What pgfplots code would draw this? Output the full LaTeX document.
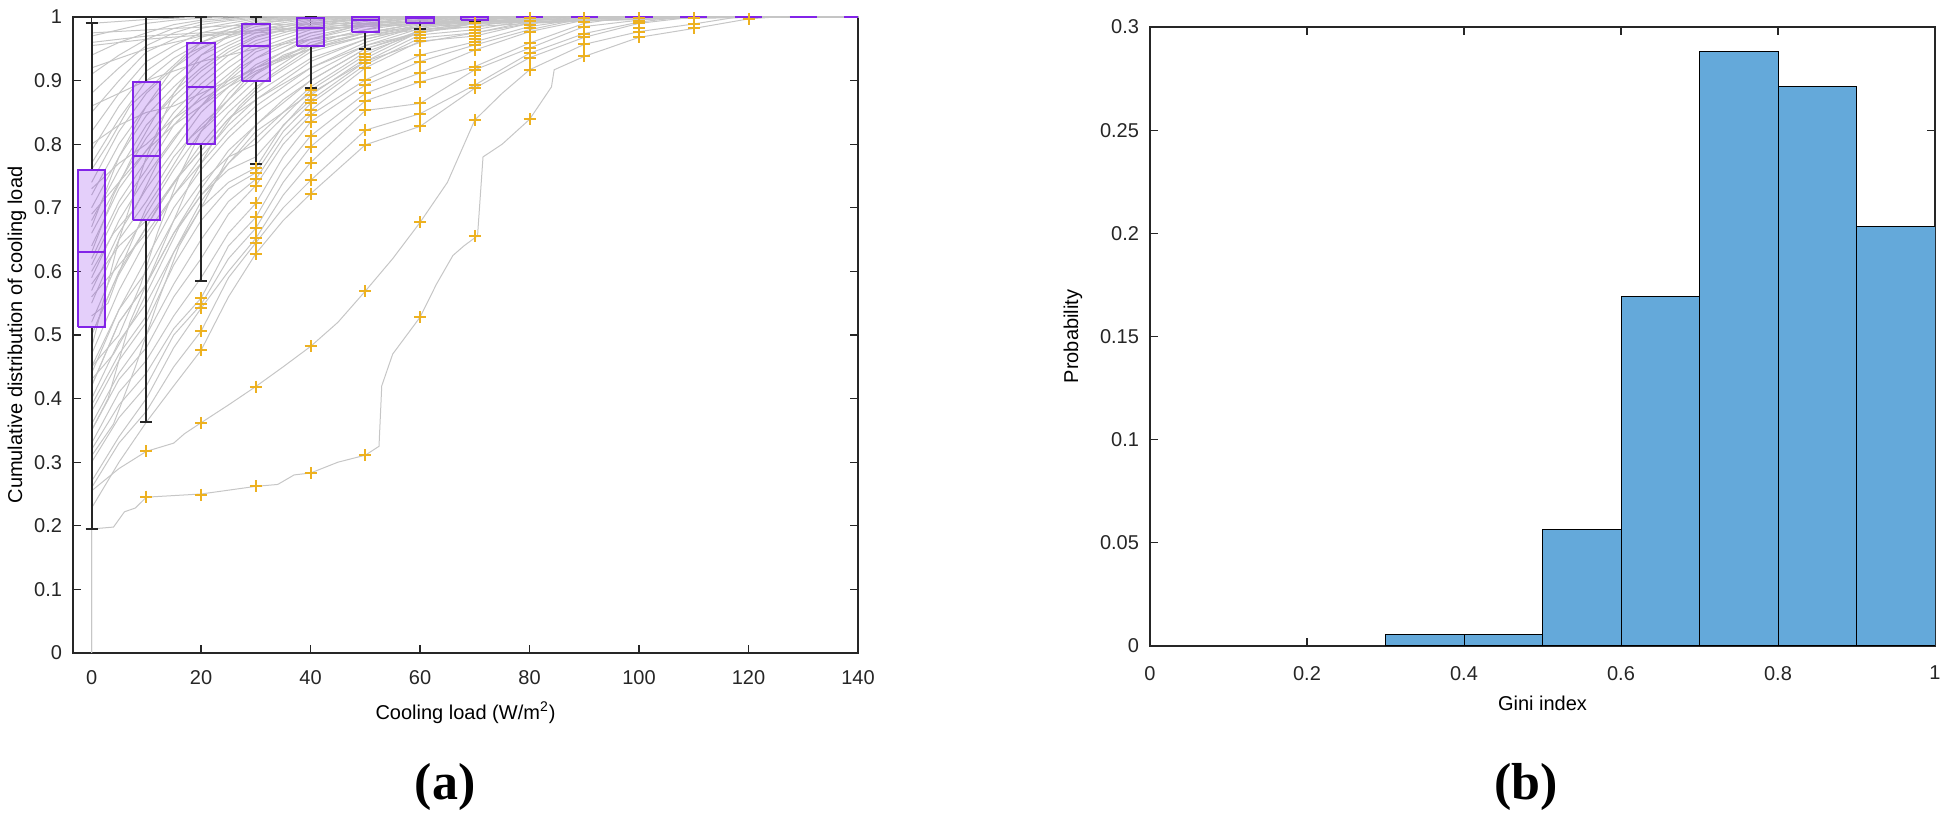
\documentclass[border=0pt]{standalone}
\usepackage{fontspec}
\setmainfont{Liberation Sans}
\newfontfamily\capfont{Liberation Serif}
\usepackage{pgfplots}
\pgfplotsset{compat=1.18}
\definecolor{cdfgray}{HTML}{C6C6C6}
\definecolor{boxpurple}{HTML}{8224E8}
\definecolor{outorange}{HTML}{EDB120}
\definecolor{histblue}{HTML}{64A9DA}
\definecolor{axgray}{HTML}{262626}

\pgfplotsset{
  panel/.style={
    scale only axis, anchor=south west,
    axis line style={axgray, line width=0.6pt},
    tick style={axgray, line width=0.6pt},
    tick align=inside, major tick length=4pt,
    tick label style={font=\fontsize{10}{11}\selectfont, text=axgray},
    yticklabel style={xshift=-2pt},
    label style={font=\fontsize{10.7}{12}\selectfont, text=axgray},
  },
  cdf/.style={cdfgray, line width=0.5pt},
  out/.style={only marks, mark=+, mark size=3pt, outorange, line width=1pt},
  box/.style={draw=boxpurple, line width=1pt, fill=boxpurple, fill opacity=0.22},
  mid/.style={boxpurple, line width=1pt, unbounded coords=jump},
  whisk/.style={axgray, line width=1pt, unbounded coords=jump},
}

\begin{document}
\begin{tikzpicture}
\path[use as bounding box] (0,0) rectangle (975.5pt,414.5pt);

% (a) cumulative distribution of cooling load
\begin{axis}[panel,
  at={(36.5pt,88pt)}, width=392.5pt, height=318pt,
  xmin=-3.4, xmax=140, ymin=0, ymax=1,
  xtick={0,20,40,60,80,100,120,140},
  xticklabels={0,20,40,60,80,100,120,140},
  xticklabel style={yshift=-5pt},
  ytick={0,0.1,0.2,0.3,0.4,0.5,0.6,0.7,0.8,0.9,1},
  yticklabels={0,0.1,0.2,0.3,0.4,0.5,0.6,0.7,0.8,0.9,1},
  xlabel={Cooling load (W/m\textsuperscript{2})},
  ylabel={Cumulative distribution of cooling load},
  every axis x label/.style={at={(axis description cs:0.5,-0.094)}, anchor=center},
  every axis y label/.style={at={(axis description cs:-0.0713,0.5)}, rotate=90, anchor=center},
  clip=false,
]
% low curves
\addplot[cdf] coordinates {(0,0)(0,0.195)(4,0.198)(6,0.222)(8,0.228)(10,0.245)(20,0.25)(30,0.262)(34,0.265)(37,0.28)(40,0.283)(45,0.30)(50,0.311)(52.5,0.325)(53,0.42)(55,0.47)(60,0.528)(63,0.58)(66,0.625)(68,0.64)(70.5,0.656)(71.5,0.78)(75,0.80)(80,0.839)(84,0.89)(84.5,0.917)(90,0.938)(100,0.968)(110,0.982)(120,0.997)(125,1)(140,1)};
\addplot[cdf] coordinates {(0,0)(0,0.255)(5,0.29)(10,0.317)(15,0.33)(17,0.345)(20,0.362)(25,0.39)(30,0.419)(35,0.45)(40,0.482)(45,0.52)(50,0.569)(55,0.62)(60,0.677)(65,0.74)(70,0.838)(75,0.88)(80,0.917)(90,0.957)(100,0.977)(110,0.989)(118,1)(140,1)};
\addplot[cdf] coordinates {(0,0.228)(5,0.30)(10,0.363)(15,0.42)(20,0.476)(25,0.56)(30,0.628)(35,0.68)(40,0.722)(50,0.799)(60,0.828)(70,0.888)(80,0.936)(90,0.968)(100,0.99)(110,1)(140,1)};
\addplot[cdf] coordinates {(0,0.26)(5,0.33)(10,0.38)(15,0.45)(20,0.506)(25,0.59)(30,0.645)(35,0.70)(40,0.743)(50,0.822)(60,0.848)(70,0.893)(80,0.943)(90,0.974)(100,0.992)(108,1)(140,1)};
\addplot[cdf] coordinates {(0,0.27)(5,0.34)(10,0.40)(15,0.48)(20,0.542)(25,0.60)(30,0.652)(35,0.72)(40,0.771)(50,0.853)(60,0.864)(70,0.917)(80,0.951)(90,0.985)(100,0.995)(105,1)(140,1)};
\addplot[cdf] coordinates {(0,0.30)(5,0.37)(10,0.42)(15,0.50)(20,0.548)(25,0.62)(30,0.668)(35,0.74)(40,0.796)(50,0.868)(60,0.898)(70,0.922)(80,0.959)(90,0.99)(98,1)(140,1)};
\addplot[cdf] coordinates {(0,0.32)(5,0.39)(10,0.44)(15,0.51)(20,0.558)(25,0.64)(30,0.685)(35,0.76)(40,0.813)(50,0.88)(60,0.912)(70,0.948)(80,0.977)(90,0.995)(95,1)(140,1)};
\addplot[cdf] coordinates {(0,0.33)(5,0.41)(10,0.46)(15,0.53)(20,0.59)(25,0.66)(30,0.707)(35,0.78)(40,0.835)(50,0.893)(60,0.93)(70,0.956)(80,0.98)(90,0.998)(95,1)(140,1)};
\addplot[cdf] coordinates {(0,0.35)(5,0.43)(10,0.48)(15,0.56)(20,0.62)(25,0.69)(30,0.735)(35,0.80)(40,0.846)(50,0.901)(60,0.94)(70,0.961)(80,0.985)(92,1)(140,1)};
\addplot[cdf] coordinates {(0,0.36)(5,0.44)(10,0.50)(15,0.58)(20,0.65)(25,0.71)(30,0.745)(35,0.81)(40,0.853)(50,0.92)(60,0.962)(70,0.97)(80,0.99)(90,1)(140,1)};
\addplot[cdf] coordinates {(0,0.38)(5,0.46)(10,0.52)(15,0.61)(20,0.68)(25,0.73)(30,0.755)(35,0.82)(40,0.864)(50,0.925)(60,0.967)(70,0.975)(80,0.993)(88,1)(140,1)};
\addplot[cdf] coordinates {(0,0.40)(5,0.49)(10,0.55)(15,0.63)(20,0.70)(25,0.74)(30,0.763)(35,0.83)(40,0.869)(50,0.93)(60,0.972)(70,0.98)(80,0.995)(86,1)(140,1)};
\addplot[cdf] coordinates {(0,0.42)(5,0.52)(10,0.58)(15,0.66)(20,0.72)(25,0.76)(30,0.78)(40,0.877)(50,0.935)(60,0.977)(70,0.985)(80,0.998)(85,1)(140,1)};
\addplot[cdf] coordinates {(0,0.44)(5,0.54)(10,0.60)(15,0.68)(20,0.74)(25,0.78)(30,0.80)(40,0.885)(50,0.94)(60,0.98)(70,0.99)(80,1)(140,1)};
% bulk curves
\addplot[cdf] coordinates {(0,0.39)(5,0.47)(10,0.53)(15,0.63)(20,0.71)(25,0.77)(30,0.81)(40,0.89)(50,0.945)(60,0.975)(70,0.99)(80,0.996)(100,1)(140,1)};
\addplot[cdf] coordinates {(0,0.42)(5,0.52)(10,0.58)(15,0.66)(20,0.73)(25,0.79)(30,0.83)(40,0.90)(50,0.95)(60,0.978)(70,0.992)(80,0.998)(100,1)(140,1)};
\addplot[cdf] coordinates {(0,0.45)(5,0.54)(10,0.62)(15,0.70)(20,0.76)(25,0.81)(30,0.85)(40,0.91)(50,0.955)(60,0.982)(70,0.994)(80,1)(140,1)};
\addplot[cdf] coordinates {(0,0.47)(5,0.57)(10,0.65)(15,0.72)(20,0.78)(25,0.83)(30,0.87)(40,0.93)(50,0.965)(60,0.985)(70,0.996)(80,1)(140,1)};
\addplot[cdf] coordinates {(0,0.50)(5,0.60)(10,0.67)(15,0.74)(20,0.80)(25,0.85)(30,0.89)(40,0.945)(50,0.97)(60,0.988)(70,0.997)(80,1)(140,1)};
\addplot[cdf] coordinates {(0,0.52)(5,0.62)(10,0.69)(15,0.76)(20,0.82)(25,0.86)(30,0.90)(40,0.955)(50,0.975)(60,0.99)(70,1)(140,1)};
\addplot[cdf] coordinates {(0,0.55)(5,0.65)(10,0.71)(15,0.78)(20,0.83)(25,0.87)(30,0.91)(40,0.96)(50,0.98)(60,0.992)(70,1)(140,1)};
\addplot[cdf] coordinates {(0,0.57)(5,0.66)(10,0.73)(15,0.79)(20,0.85)(25,0.89)(30,0.925)(40,0.965)(50,0.985)(60,0.994)(70,1)(140,1)};
\addplot[cdf] coordinates {(0,0.59)(5,0.68)(10,0.75)(15,0.81)(20,0.86)(25,0.90)(30,0.935)(40,0.97)(50,0.988)(60,0.996)(70,1)(140,1)};
\addplot[cdf] coordinates {(0,0.61)(5,0.70)(10,0.76)(15,0.83)(20,0.875)(25,0.91)(30,0.945)(40,0.975)(50,0.99)(60,0.998)(70,1)(140,1)};
\addplot[cdf] coordinates {(0,0.62)(5,0.71)(10,0.775)(15,0.84)(20,0.885)(25,0.92)(30,0.95)(40,0.98)(50,0.993)(60,1)(140,1)};
\addplot[cdf] coordinates {(0,0.64)(5,0.73)(10,0.79)(15,0.85)(20,0.895)(25,0.93)(30,0.958)(40,0.984)(50,0.995)(60,1)(140,1)};
\addplot[cdf] coordinates {(0,0.66)(5,0.74)(10,0.81)(15,0.865)(20,0.905)(25,0.94)(30,0.963)(40,0.987)(50,0.997)(60,1)(140,1)};
\addplot[cdf] coordinates {(0,0.68)(5,0.76)(10,0.83)(15,0.875)(20,0.915)(25,0.945)(30,0.968)(40,0.99)(50,0.998)(60,1)(140,1)};
\addplot[cdf] coordinates {(0,0.70)(5,0.78)(10,0.845)(15,0.89)(20,0.93)(25,0.955)(30,0.975)(40,0.993)(50,1)(140,1)};
\addplot[cdf] coordinates {(0,0.72)(5,0.80)(10,0.86)(15,0.905)(20,0.94)(25,0.96)(30,0.98)(40,0.995)(50,1)(140,1)};
\addplot[cdf] coordinates {(0,0.74)(5,0.82)(10,0.88)(15,0.92)(20,0.95)(25,0.97)(30,0.985)(40,0.997)(50,1)(140,1)};
\addplot[cdf] coordinates {(0,0.77)(5,0.84)(10,0.90)(15,0.935)(20,0.96)(25,0.975)(30,0.99)(40,0.998)(50,1)(140,1)};
\addplot[cdf] coordinates {(0,0.79)(5,0.86)(10,0.915)(15,0.945)(20,0.968)(25,0.98)(30,0.993)(40,1)(140,1)};
\addplot[cdf] coordinates {(0,0.82)(5,0.88)(10,0.93)(15,0.955)(20,0.975)(25,0.985)(30,0.995)(40,1)(140,1)};
\addplot[cdf] coordinates {(0,0.85)(5,0.90)(10,0.945)(15,0.965)(20,0.982)(25,0.99)(30,0.997)(40,1)(140,1)};
\addplot[cdf] coordinates {(0,0.88)(5,0.92)(10,0.955)(15,0.975)(20,0.988)(25,0.994)(30,0.998)(40,1)(140,1)};
\addplot[cdf] coordinates {(0,0.91)(5,0.94)(10,0.965)(15,0.982)(20,0.992)(25,0.996)(30,1)(140,1)};
\addplot[cdf] coordinates {(0,0.94)(5,0.96)(10,0.975)(15,0.988)(20,0.995)(25,0.998)(30,1)(140,1)};
\addplot[cdf] coordinates {(0,0.97)(5,0.98)(10,0.99)(15,0.995)(20,0.998)(25,1)(140,1)};
\addplot[cdf] coordinates {(0,0.99)(5,0.993)(10,0.996)(15,0.998)(20,1)(140,1)};
\addplot[cdf] coordinates {(0,0.80)(5,0.83)(10,0.85)(15,0.86)(20,0.88)(25,0.90)(30,0.92)(40,0.95)(50,0.97)(60,0.98)(70,0.985)(80,0.99)(100,0.997)(110,1)(140,1)};
\addplot[cdf] coordinates {(0,0.48)(5,0.65)(10,0.78)(15,0.88)(20,0.94)(25,0.97)(30,0.99)(40,1)(140,1)};
\addplot[cdf] coordinates {(0,0.58)(5,0.64)(10,0.68)(15,0.74)(20,0.79)(25,0.84)(30,0.87)(40,0.92)(50,0.96)(60,0.985)(70,0.995)(80,1)(140,1)};
\addplot[cdf] coordinates {(0,0.92)(10,0.95)(20,0.97)(30,0.975)(40,0.98)(50,0.985)(60,0.99)(70,0.993)(90,0.997)(110,1)(140,1)};
\addplot[cdf] coordinates {(0,0.67)(5,0.78)(10,0.86)(15,0.92)(20,0.96)(25,0.98)(30,0.99)(40,0.998)(50,1)(140,1)};
% crossing curves
\addplot[cdf] coordinates {(0,0.53)(3,0.55)(6,0.62)(10,0.70)(13,0.74)(18,0.81)(22,0.84)(28,0.90)(35,0.94)(45,0.97)(55,0.99)(65,1)(140,1)};
\addplot[cdf] coordinates {(0,0.60)(4,0.66)(8,0.70)(12,0.77)(17,0.83)(22,0.88)(27,0.92)(33,0.95)(40,0.975)(50,0.99)(60,1)(140,1)};
\addplot[cdf] coordinates {(0,0.35)(3,0.40)(7,0.52)(10,0.58)(14,0.66)(18,0.74)(22,0.80)(27,0.86)(33,0.91)(40,0.95)(50,0.975)(60,0.99)(75,1)(140,1)};
\addplot[cdf] coordinates {(0,0.45)(5,0.50)(9,0.58)(12,0.66)(16,0.75)(20,0.82)(25,0.88)(30,0.92)(38,0.96)(48,0.985)(60,1)(140,1)};
\addplot[cdf] coordinates {(0,0.63)(4,0.72)(8,0.79)(12,0.85)(16,0.89)(20,0.92)(25,0.95)(30,0.97)(40,0.99)(50,1)(140,1)};
\addplot[cdf] coordinates {(0,0.73)(5,0.77)(10,0.80)(15,0.84)(20,0.87)(25,0.895)(30,0.92)(40,0.955)(50,0.975)(60,0.99)(70,1)(140,1)};
\addplot[cdf] coordinates {(0,0.56)(5,0.61)(10,0.66)(15,0.72)(20,0.77)(25,0.82)(30,0.86)(35,0.89)(40,0.92)(50,0.955)(60,0.975)(70,0.99)(85,1)(140,1)};
\addplot[cdf] coordinates {(0,0.96)(10,0.97)(20,0.975)(40,0.982)(60,0.988)(80,0.992)(100,0.996)(115,1)(140,1)};
\addplot[cdf] coordinates {(0,0.975)(15,0.982)(30,0.988)(50,0.99)(70,0.994)(90,0.997)(105,1)(140,1)};
\addplot[cdf] coordinates {(0,0.955)(10,0.965)(25,0.975)(40,0.985)(60,0.99)(90,0.995)(110,0.998)(130,1)(140,1)};
\addplot[cdf] coordinates {(0,0.86)(5,0.88)(10,0.90)(20,0.93)(30,0.95)(40,0.965)(50,0.975)(60,0.985)(80,0.992)(100,0.997)(115,1)(140,1)};
\addplot[cdf] coordinates {(0,0.31)(4,0.36)(8,0.45)(12,0.55)(16,0.64)(20,0.70)(25,0.78)(30,0.83)(35,0.87)(40,0.90)(50,0.95)(60,0.975)(70,0.99)(80,1)(140,1)};
\addplot[cdf] coordinates {(0,0.50)(4,0.58)(8,0.64)(12,0.70)(16,0.75)(20,0.79)(25,0.84)(30,0.88)(40,0.935)(50,0.965)(60,0.985)(70,1)(140,1)};
\addplot[cdf] coordinates {(0,0.69)(5,0.74)(10,0.79)(15,0.83)(20,0.86)(25,0.89)(30,0.915)(40,0.95)(50,0.97)(60,0.985)(75,1)(140,1)};
\addplot[cdf] coordinates {(0,0.76)(3,0.80)(7,0.86)(12,0.90)(17,0.94)(22,0.96)(30,0.98)(40,0.99)(55,1)(140,1)};
\addplot[cdf] coordinates {(0,0.43)(4,0.47)(8,0.53)(12,0.60)(16,0.67)(20,0.72)(25,0.77)(30,0.82)(40,0.88)(50,0.93)(60,0.96)(70,0.975)(80,0.99)(95,1)(140,1)};
% whiskers (x, lower whisker .. lower quartile, upper quartile .. upper whisker)
\addplot[whisk] coordinates {
 (0,0.195)(0,0.512) (0,nan) (-1.1,0.195)(1.1,0.195) (0,nan) (0,0.760)(0,0.991) (0,nan) (-1.1,0.991)(1.1,0.991) (0,nan)
 (10,0.363)(10,0.681) (10,nan) (8.9,0.363)(11.1,0.363) (10,nan) (10,0.897)(10,1) (10,nan) (8.9,1)(11.1,1) (10,nan)
 (20,0.585)(20,0.800) (20,nan) (18.9,0.585)(21.1,0.585) (20,nan) (20,0.959)(20,1) (20,nan) (18.9,1)(21.1,1) (20,nan)
 (30,0.769)(30,0.900) (30,nan) (28.9,0.769)(31.1,0.769) (30,nan) (30,0.989)(30,1) (30,nan) (28.9,1)(31.1,1) (30,nan)
 (40,0.889)(40,0.954) (40,nan) (38.9,0.889)(41.1,0.889) (40,nan) (38.9,1)(41.1,1) (40,nan)
 (50,0.949)(50,0.977) (50,nan) (48.9,0.949)(51.1,0.949) (50,nan)
 (60,0.981)(60,0.990) (60,nan) (58.9,0.981)(61.1,0.981) (60,nan)
 (68.9,0.993)(71.1,0.993)
};
% boxes: lower quartile to upper quartile
\addplot[box] coordinates {(-2.5,0.512)(2.5,0.512)(2.5,0.760)(-2.5,0.760)(-2.5,0.512)};
\addplot[box] coordinates {(7.5,0.681)(12.5,0.681)(12.5,0.897)(7.5,0.897)(7.5,0.681)};
\addplot[box] coordinates {(17.5,0.800)(22.5,0.800)(22.5,0.959)(17.5,0.959)(17.5,0.800)};
\addplot[box] coordinates {(27.5,0.900)(32.5,0.900)(32.5,0.989)(27.5,0.989)(27.5,0.900)};
\addplot[box] coordinates {(37.5,0.954)(42.5,0.954)(42.5,0.998)(37.5,0.998)(37.5,0.954)};
\addplot[box] coordinates {(47.5,0.977)(52.5,0.977)(52.5,1)(47.5,1)(47.5,0.977)};
\addplot[box] coordinates {(57.5,0.990)(62.5,0.990)(62.5,1)(57.5,1)(57.5,0.990)};
\addplot[box] coordinates {(67.5,0.996)(72.5,0.996)(72.5,1)(67.5,1)(67.5,0.996)};
% medians and collapsed boxes
\addplot[mid] coordinates {
 (-2.5,0.631)(2.5,0.631) (0,nan) (7.5,0.781)(12.5,0.781) (10,nan) (17.5,0.890)(22.5,0.890) (20,nan)
 (27.5,0.955)(32.5,0.955) (30,nan) (37.5,0.983)(42.5,0.983) (40,nan) (47.5,0.995)(52.5,0.995) (50,nan)
 (57.5,0.999)(62.5,0.999) (60,nan) (67.5,1)(72.5,1) (70,nan)
 (77.5,1)(82.5,1) (80,nan) (87.5,1)(92.5,1) (90,nan) (97.5,1)(102.5,1) (100,nan) (107.5,1)(112.5,1) (110,nan)
 (117.5,1)(122.5,1) (120,nan) (127.5,1)(132.5,1) (130,nan) (137.5,1)(140,1)
};
% outliers
\addplot[out] coordinates {
 (10,0.317)(10,0.246)
 (20,0.558)(20,0.548)(20,0.542)(20,0.506)(20,0.476)(20,0.362)(20,0.249)
 (30,0.763)(30,0.755)(30,0.745)(30,0.735)(30,0.707)(30,0.685)(30,0.668)(30,0.652)(30,0.645)(30,0.628)(30,0.419)(30,0.262)
 (40,0.885)(40,0.877)(40,0.869)(40,0.864)(40,0.853)(40,0.846)(40,0.835)(40,0.813)(40,0.796)(40,0.771)(40,0.743)(40,0.722)(40,0.482)(40,0.283)
 (50,0.942)(50,0.937)(50,0.932)(50,0.927)(50,0.920)(50,0.901)(50,0.893)(50,0.880)(50,0.868)(50,0.853)(50,0.822)(50,0.799)(50,0.569)(50,0.311)
 (60,0.977)(60,0.972)(60,0.967)(60,0.962)(60,0.940)(60,0.930)(60,0.912)(60,0.898)(60,0.864)(60,0.848)(60,0.828)(60,0.677)(60,0.528)
 (70,0.990)(70,0.985)(70,0.980)(70,0.975)(70,0.970)(70,0.965)(70,0.961)(70,0.956)(70,0.948)(70,0.922)(70,0.917)(70,0.893)(70,0.888)(70,0.838)(70,0.656)
 (80,0.998)(80,0.993)(80,0.988)(80,0.983)(80,0.977)(80,0.959)(80,0.951)(80,0.943)(80,0.936)(80,0.917)(80,0.839)
 (90,0.998)(90,0.992)(90,0.985)(90,0.974)(90,0.968)(90,0.957)(90,0.938)
 (100,0.998)(100,0.994)(100,0.990)(100,0.982)(100,0.977)(100,0.968)
 (110,0.998)(110,0.989)(110,0.982)
 (120,0.997)
};
\end{axis}

% (b) histogram of the Gini index
\begin{axis}[panel,
  at={(575pt,91.5pt)}, width=392.5pt, height=309.5pt,
  xmin=0, xmax=1, ymin=0, ymax=0.3,
  xtick={0,0.2,0.4,0.6,0.8,1},
  xticklabels={0,0.2,0.4,0.6,0.8,1},
  xticklabel style={yshift=-6.5pt},
  ytick={0,0.05,0.1,0.15,0.2,0.25,0.3},
  yticklabels={0,0.05,0.1,0.15,0.2,0.25,0.3},
  xlabel={Gini index},
  ylabel={Probability},
  every axis x label/.style={at={(axis description cs:0.5,-0.092)}, anchor=center},
  every axis y label/.style={at={(axis description cs:-0.098,0.5)}, rotate=90, anchor=center},
]
\addplot[ybar interval, fill=histblue, draw=black, line width=0.5pt] coordinates {
 (0.3,0.0056)(0.4,0.0056)(0.5,0.0565)(0.6,0.1695)(0.7,0.2881)(0.8,0.2712)(0.9,0.2034)(1.0,0.2034)
};
\end{axis}

\node[font=\capfont\bfseries\fontsize{26}{30}\selectfont] at (222.5pt,21pt) {(a)};
\node[font=\capfont\bfseries\fontsize{26}{30}\selectfont] at (763pt,21pt) {(b)};
\end{tikzpicture}
\end{document}
